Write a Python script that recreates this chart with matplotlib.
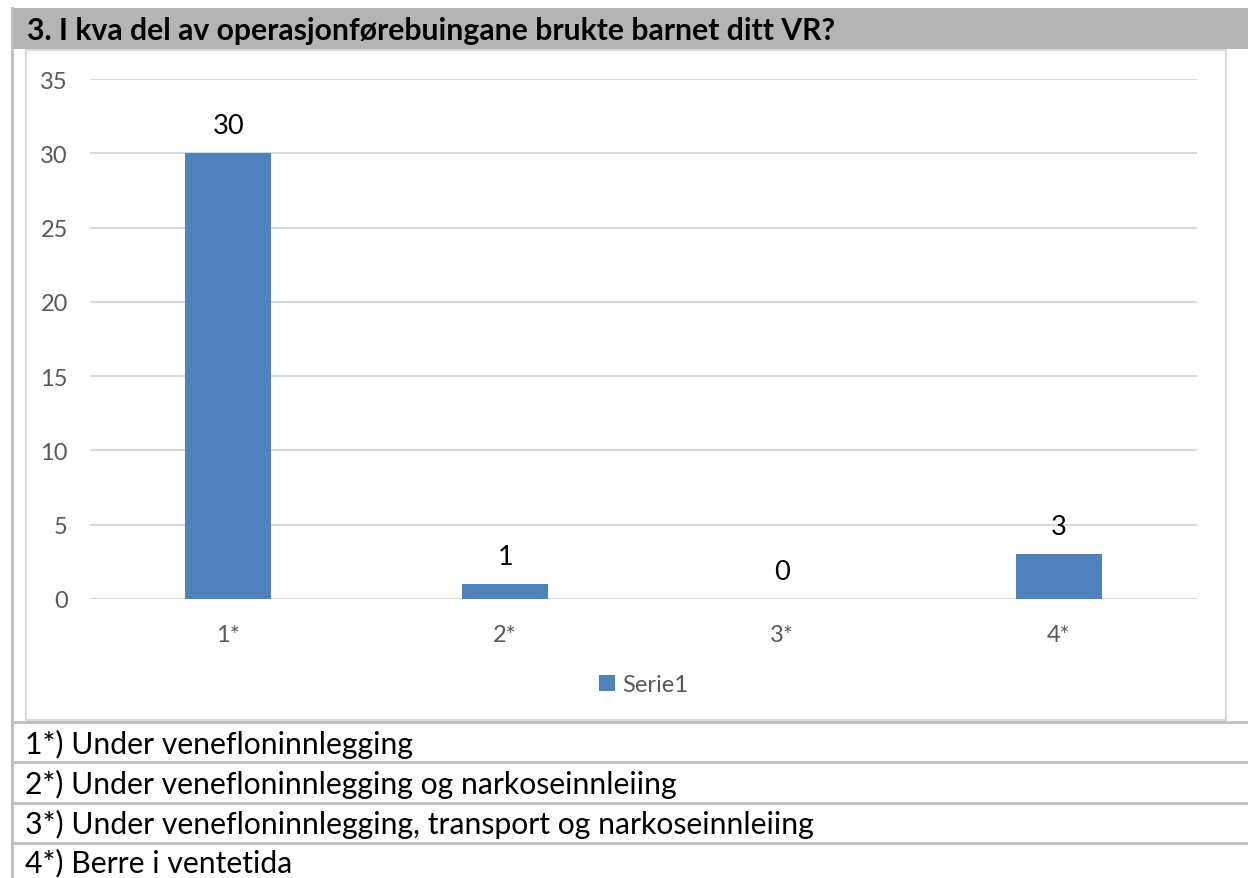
import matplotlib
matplotlib.use("Agg")
import matplotlib.pyplot as plt
from matplotlib.patches import Rectangle
from matplotlib.lines import Line2D

# data
categories = ["1*", "2*", "3*", "4*"]
values = [30, 1, 0, 3]
series_name = "Serie1"
title = "3. I kva del av operasjonførebuingane brukte barnet ditt VR?"
notes = [
    "1*) Under venefloninnlegging",
    "2*) Under venefloninnlegging og narkoseinnleiing",
    "3*) Under venefloninnlegging, transport og narkoseinnleiing",
    "4*) Berre i ventetida",
]

plt.rcParams["font.family"] = ["Lato", "DejaVu Sans"]

W, H = 1248, 879
fig = plt.figure(figsize=(W / 100, H / 100), dpi=100)


def fx(px):
    return px / W


def fy(py):
    return 1 - py / H


# header bar
fig.patches.append(Rectangle((fx(12), fy(50)), fx(W - 12), (41) / H,
                             transform=fig.transFigure, facecolor="#B4B4B4",
                             edgecolor="none", zorder=0))
fig.text(fx(27), fy(31), title, fontsize=21.7, fontweight="bold",
         va="center", ha="left", color="black")

# table borders
border = "#BFBFBF"
fig.lines.append(Line2D([fx(12), fx(12)], [fy(9), fy(H)], color=border, lw=2,
                        transform=fig.transFigure))
for y in [723, 763, 804, 844]:
    fig.lines.append(Line2D([fx(12), fx(W)], [fy(y), fy(y)], color=border, lw=2,
                            transform=fig.transFigure))

# chart frame
fig.patches.append(Rectangle((fx(26), fy(721)), fx(1226 - 26), (721 - 51) / H,
                             transform=fig.transFigure, facecolor="white",
                             edgecolor="#D9D9D9", lw=1.5, zorder=0))

# notes in table rows
row_centers = [744, 784, 824, 863]
for yc, txt in zip(row_centers, notes):
    fig.text(fx(25), fy(yc), txt, fontsize=21.7, va="center", ha="left",
             color="black")

# plot area
ax = fig.add_axes([fx(90), fy(600), fx(1197 - 90), (600 - 80) / H])
ax.set_zorder(5)
ax.set_facecolor("none")
x = range(len(categories))
bars = ax.bar(x, values, width=0.31, color="#4F81BD", zorder=3, label=series_name)
ax.set_xlim(-0.5, len(categories) - 0.5)
ax.set_ylim(0, 35)
ax.set_yticks(range(0, 36, 5))
ax.set_xticks(list(x))
ax.set_xticklabels(categories)
ax.yaxis.grid(True, color="#D9D9D9", lw=1.5, zorder=0)
ax.set_axisbelow(True)
for s in ax.spines.values():
    s.set_visible(False)
ax.tick_params(length=0, labelsize=17, labelcolor="#595959")
ax.tick_params(axis="y", pad=16)
ax.tick_params(axis="x", pad=18)

for xi, v in zip(x, values):
    ax.annotate(str(v), (xi, v), xytext=(0, 11), textcoords="offset points",
                ha="center", va="bottom", fontsize=19.5, color="black")

leg = ax.legend(loc="center", bbox_to_anchor=(0.5, -0.165), frameon=False,
                fontsize=17, handlelength=0.7, handleheight=0.7,
                handletextpad=0.3)
for t in leg.get_texts():
    t.set_color("#595959")

fig.savefig("out.png", dpi=100)
